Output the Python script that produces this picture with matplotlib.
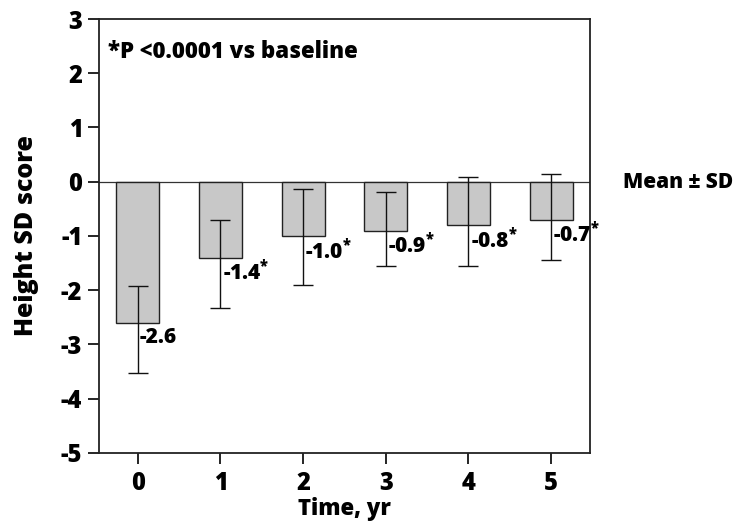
import matplotlib
matplotlib.use("Agg")
import matplotlib.pyplot as plt

plt.rcParams['font.family'] = ['Open Sans', 'DejaVu Sans']
plt.rcParams['font.weight'] = 'heavy'
plt.rcParams['axes.unicode_minus'] = False
plt.rcParams['mathtext.fontset'] = 'custom'
plt.rcParams['mathtext.bf'] = 'Open Sans:heavy'

years = [0, 1, 2, 3, 4, 5]
mean_sds = [-2.6, -1.4, -1.0, -0.9, -0.8, -0.7]
err_low = [-3.52, -2.32, -1.91, -1.56, -1.56, -1.45]
err_high = [-1.92, -0.71, -0.14, -0.18, 0.08, 0.15]
significant = [False, True, True, True, True, True]

fig = plt.figure(figsize=(7.36, 5.22), dpi=100)
ax = fig.add_axes([0.1345, 0.1322, 0.6671, 0.8314])

ax.bar(years, mean_sds, width=0.52, color='#c8c8c8', edgecolor='#222222',
       linewidth=1.0, zorder=2)
yerr = [[m - lo for m, lo in zip(mean_sds, err_low)],
        [hi - m for m, hi in zip(mean_sds, err_high)]]
ax.errorbar(years, mean_sds, yerr=yerr, fmt='none', ecolor='#111111',
            elinewidth=1.0, capsize=7.5, capthick=1.0, zorder=3)
ax.axhline(0, color='#333333', linewidth=0.9, zorder=1)

for x, m, sig in zip(years, mean_sds, significant):
    label = f"{m:.1f}" + (r"$^{\mathbf{*}}$" if sig else "")
    ax.text(x + 0.025, m - 0.28, label, fontsize=15, fontweight='heavy',
            ha='left', va='center', zorder=4)

ax.text(-0.36, 2.4, "*P <0.0001 vs baseline", fontsize=16, fontweight='heavy',
        ha='left', va='center')

ax.set_xlim(-0.47, 5.47)
ax.set_ylim(-5, 3)
ax.set_xticks(years)
ax.set_yticks(range(-5, 4))
ax.tick_params(axis='both', direction='out', length=8, width=1.2,
               labelsize=17)
ax.tick_params(axis='x', pad=5)
ax.tick_params(axis='y', pad=4)
for lbl in ax.get_xticklabels() + ax.get_yticklabels():
    lbl.set_fontweight('heavy')
for s in ax.spines.values():
    s.set_linewidth(1.3)
    s.set_color('#222222')

ax.set_xlabel("Time, yr", fontsize=16, fontweight='heavy', labelpad=1)
ax.set_ylabel("Height SD score", fontsize=18, fontweight='heavy', labelpad=16)

fig.text(0.846, 1 - 182 / 522, "Mean \u00b1 SD", fontsize=15, fontweight='heavy',
         ha='left', va='center')

fig.savefig("out.png", dpi=100)
